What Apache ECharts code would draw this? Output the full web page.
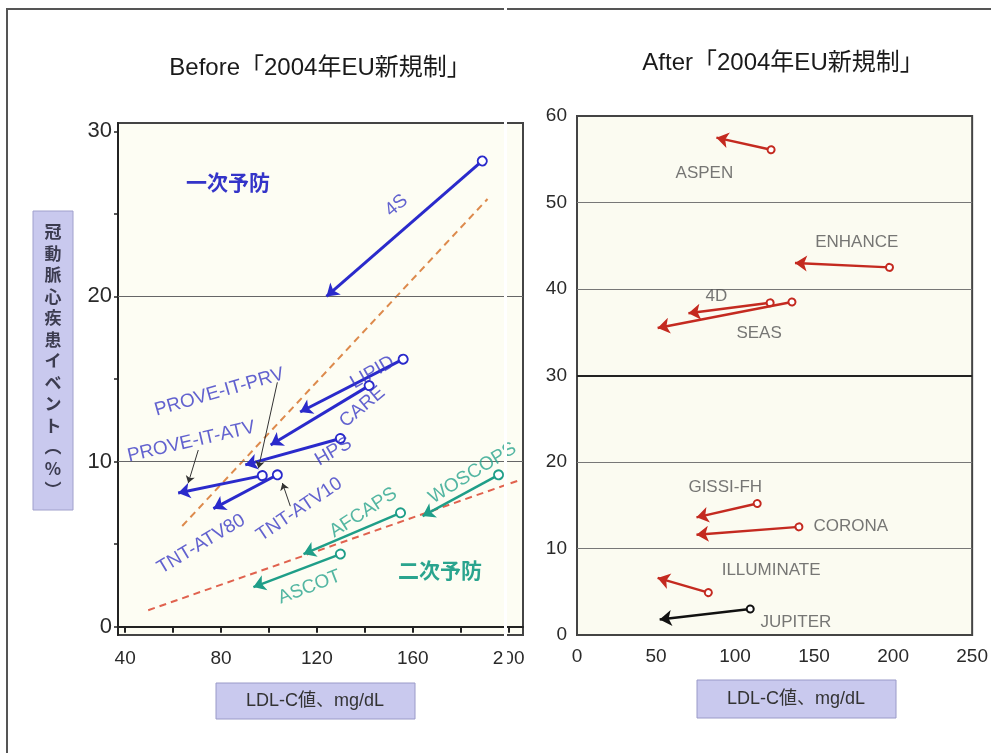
<!DOCTYPE html>
<html>
<head>
<meta charset="utf-8">
<script src="https://cdn.jsdelivr.net/npm/echarts@6/dist/echarts.min.js"></script>
<style>
html,body{margin:0;padding:0;background:#fff}
#main{width:991px;height:753px}
</style>
</head>
<body>
<div id="main"></div>
<script>
// Before: 一次予防 (blue)
const primaryNames = ['4S', 'LIPID', 'CARE', 'HPS', 'PROVE-IT', 'TNT'];
const primaryFrom = [[189, 28.2], [156, 16.2], [141.8, 14.6], [129.8, 11.4], [97.2, 9.15], [103.5, 9.2]];
const primaryTo = [[124, 20], [113, 13], [100.7, 11], [90.1, 9.8], [62.1, 8.1], [76.8, 7.15]];
// Before: 二次予防 (green)
const secondaryNames = ['WOSCOPS', 'AFCAPS', 'ASCOT'];
const secondaryFrom = [[195.8, 9.2], [154.9, 6.9], [129.8, 4.4]];
const secondaryTo = [[164.1, 6.7], [114.4, 4.4], [93.5, 2.4]];
// 回帰線 (dashed)
const primaryTrend = [[63.8, 6.1], [191.2, 25.9]];
const secondaryTrend = [[49.6, 1.0], [205, 8.9]];
// thin pointers for PROVE-IT / TNT labels
const pointerLines = [[[103.5, 14.8], [95.6, 9.6]], [[70.5, 10.7], [66.3, 8.7]], [[108.9, 7.3], [105.6, 8.7]]];
// labels: name, x, y, angle
const beforeLabels = [
  ['4S', 153.2, 25.5, 40], ['LIPID', 143.2, 15.4, 30], ['CARE', 139, 13.3, 40], ['HPS', 126.9, 10.6, 30],
  ['PROVE-IT-PRV', 79.3, 14.2, 16], ['PROVE-IT-ATV', 67.6, 11.2, 13],
  ['TNT-ATV80', 71.7, 5.0, 31], ['TNT-ATV10', 112.7, 7.1, 34]
];
const beforeGreenLabels = [['AFCAPS', 139.4, 6.9, 33], ['WOSCOPS', 185, 9.3, 32], ['ASCOT', 116.9, 2.4, 21]];
const beforeXTicks = [40, 60, 80, 100, 120, 140, 160, 180, 200];
const beforeXLabels = [40, 80, 120, 160, 200];
const beforeYTicks = [0, 5, 10, 15, 20, 25, 30];
const beforeYLabels = [0, 10, 20, 30];
const beforeGrid = [10, 20];

// After
const afterNames = ['ASPEN', 'ENHANCE', '4D', 'SEAS', 'GISSI-FH', 'CORONA', 'ILLUMINATE', 'JUPITER'];
const afterFrom = [[122.8, 56.1], [197.7, 42.5], [122.2, 38.4], [136, 38.5], [114, 15.2], [140.4, 12.5], [83.1, 4.9], [109.6, 3.0]];
const afterTo = [[88.2, 57.5], [137.9, 43], [70.5, 37.2], [51, 35.5], [75.6, 13.6], [75.6, 11.6], [51, 6.6], [52.3, 1.8]];
const afterLabels = [
  ['ASPEN', 80.6, 53.4], ['ENHANCE', 177, 45.4], ['4D', 88.2, 39.1], ['SEAS', 115.2, 34.9],
  ['GISSI-FH', 93.8, 17.1], ['CORONA', 173.2, 12.6], ['ILLUMINATE', 122.8, 7.5], ['JUPITER', 138.5, 1.5]
];
const afterGrid = [10, 20, 40, 50];

const FONT = 'Liberation Sans, Arial, sans-serif';
const JP = 'Noto Sans CJK JP, sans-serif';
const TITLE = 'Liberation Sans, Noto Sans CJK JP, sans-serif';

function arrows(names, from, to, color, width, gi, circle) {
  return {
    type: 'lines', coordinateSystem: 'cartesian2d', xAxisIndex: gi, yAxisIndex: gi, z: 5,
    symbol: ['emptyCircle', 'arrow'], symbolSize: [circle, 12],
    lineStyle: {color: color, width: width, opacity: 1},
    data: names.map((n, i) => ({name: n, coords: [from[i], to[i]]}))
  };
}
function texts(items, color, size, gi, rot) {
  return {
    type: 'scatter', xAxisIndex: gi, yAxisIndex: gi, symbolSize: 0, z: 6, silent: true,
    label: {show: true, position: 'inside', formatter: '{b}', color: color, fontSize: size, fontFamily: FONT},
    data: items.map(d => ({name: d[0], value: [d[1], d[2]], label: {rotate: rot ? d[3] : 0}}))
  };
}
function dashed(pts, color) {
  return {type: 'line', xAxisIndex: 0, yAxisIndex: 0, data: pts, showSymbol: false, silent: true, z: 3,
    lineStyle: {color: color, width: 2, type: [7, 5]}};
}

const chart = echarts.init(document.getElementById('main'));
chart.setOption({
  animation: false,
  grid: [
    {left: 118, top: 123, width: 405, height: 512, show: true, backgroundColor: '#fdfdf3', borderColor: '#444', borderWidth: 2},
    {left: 577, top: 116, width: 397, height: 519, show: true, backgroundColor: '#fbfbf1', borderColor: '#444', borderWidth: 2}
  ],
  xAxis: [
    {type: 'value', gridIndex: 0, min: 37, max: 206, splitLine: {show: false},
      axisLine: {lineStyle: {color: '#222', width: 2}},
      axisTick: {show: true, customValues: beforeXTicks, length: 6, lineStyle: {color: '#222', width: 2}},
      axisLabel: {customValues: beforeXLabels, color: '#2a2a2a', fontSize: 19, fontFamily: FONT, margin: 14}},
    {type: 'value', gridIndex: 1, min: 0, max: 250, interval: 50, splitLine: {show: false},
      axisLine: {lineStyle: {color: '#444', width: 2}}, axisTick: {show: false},
      axisLabel: {color: '#2a2a2a', fontSize: 19, fontFamily: FONT, margin: 12}}
  ],
  yAxis: [
    {type: 'value', gridIndex: 0, min: -0.5, max: 30.5, splitLine: {show: false},
      axisLine: {show: true, lineStyle: {color: '#222', width: 2}},
      axisTick: {show: true, customValues: beforeYTicks, length: 4, lineStyle: {color: '#222', width: 1.5}},
      axisLabel: {customValues: beforeYLabels, color: '#2a2a2a', fontSize: 22, fontFamily: FONT, margin: 6}},
    {type: 'value', gridIndex: 1, min: 0, max: 60, interval: 10, splitLine: {show: false},
      axisLine: {show: true, lineStyle: {color: '#444', width: 2}}, axisTick: {show: false},
      axisLabel: {color: '#2a2a2a', fontSize: 19, fontFamily: FONT, margin: 10}}
  ],
  series: [
    Object.assign(texts([['', 0, -10, 0]], '#000', 10, 0, false), {
      markLine: {silent: true, symbol: 'none', label: {show: false},
        lineStyle: {color: '#666', width: 1.2, type: 'solid'}, data: beforeGrid.map(v => ({yAxis: v}))}}),
    Object.assign(texts([['', 0, -10, 0]], '#000', 10, 1, false), {
      markLine: {silent: true, symbol: 'none', label: {show: false},
        data: afterGrid.map(v => ({yAxis: v, lineStyle: {color: '#777', width: 1.2, type: 'solid'}}))
          .concat([{yAxis: 30, lineStyle: {color: '#222', width: 2, type: 'solid'}}])}}),
    dashed(primaryTrend, '#dd8a4c'),
    dashed(secondaryTrend, '#e0624e'),
    arrows(primaryNames, primaryFrom, primaryTo, '#2a2acb', 3, 0, 9),
    arrows(secondaryNames, secondaryFrom, secondaryTo, '#1f9e88', 2.5, 0, 9),
    {type: 'lines', coordinateSystem: 'cartesian2d', xAxisIndex: 0, yAxisIndex: 0, z: 6,
      symbol: ['none', 'arrow'], symbolSize: 7, lineStyle: {color: '#333', width: 1, opacity: 1},
      data: pointerLines.map(c => ({coords: c}))},
    texts(beforeLabels, '#3b3bc6', 19, 0, true),
    texts(beforeGreenLabels, '#28a48d', 19, 0, true),
    arrows(afterNames.slice(0, 7), afterFrom.slice(0, 7), afterTo.slice(0, 7), '#c42a20', 2.5, 1, 7),
    arrows(afterNames.slice(7), afterFrom.slice(7), afterTo.slice(7), '#111', 2.5, 1, 7),
    texts(afterLabels, '#555', 17, 1, false)
  ],
  graphic: [
    {type: 'rect', shape: {x: 7, y: 9, width: 1000, height: 760}, style: {fill: 'none', stroke: '#555', lineWidth: 2}, z: -10, silent: true},
    {type: 'text', x: 320, y: 68, style: {text: 'Before「2004年EU新規制」', font: '24px ' + TITLE, fill: '#1a1a1a', align: 'center', verticalAlign: 'middle'}},
    {type: 'text', x: 783, y: 63, style: {text: 'After「2004年EU新規制」', font: '24px ' + TITLE, fill: '#1a1a1a', align: 'center', verticalAlign: 'middle'}},
    {type: 'text', x: 228, y: 182, z: 10, style: {text: '一次予防', font: 'bold 21px ' + JP, fill: '#3434c8', align: 'center', verticalAlign: 'middle'}},
    {type: 'text', x: 440, y: 570, z: 10, style: {text: '二次予防', font: 'bold 21px ' + JP, fill: '#2aa48e', align: 'center', verticalAlign: 'middle'}},
    {type: 'rect', shape: {x: 33, y: 211, width: 40, height: 299}, style: {fill: '#c9c9ee', stroke: '#a0a0cc', lineWidth: 1}},
    {type: 'text', x: 53, y: 361, style: {text: '冠\n動\n脈\n心\n疾\n患\nイ\nベ\nン\nト\n︵\n%\n︶', font: 'bold 17px ' + JP, lineHeight: 21.5, fill: '#3c3c50', align: 'center', verticalAlign: 'middle'}},
    {type: 'rect', shape: {x: 216, y: 683, width: 199, height: 36}, style: {fill: '#c9c9ee', stroke: '#9a9ac8', lineWidth: 1}},
    {type: 'text', x: 315, y: 701, style: {text: 'LDL-C値、mg/dL', font: '18px ' + FONT + ', ' + JP, fill: '#333', align: 'center', verticalAlign: 'middle'}},
    {type: 'rect', shape: {x: 697, y: 680, width: 199, height: 38}, style: {fill: '#c9c9ee', stroke: '#9a9ac8', lineWidth: 1}},
    {type: 'text', x: 796, y: 699, style: {text: 'LDL-C値、mg/dL', font: '18px ' + FONT + ', ' + JP, fill: '#333', align: 'center', verticalAlign: 'middle'}},
    {type: 'rect', shape: {x: 504, y: 0, width: 3, height: 680}, style: {fill: '#fff'}, z: 20, silent: true}
  ]
});
</script>
</body>
</html>
